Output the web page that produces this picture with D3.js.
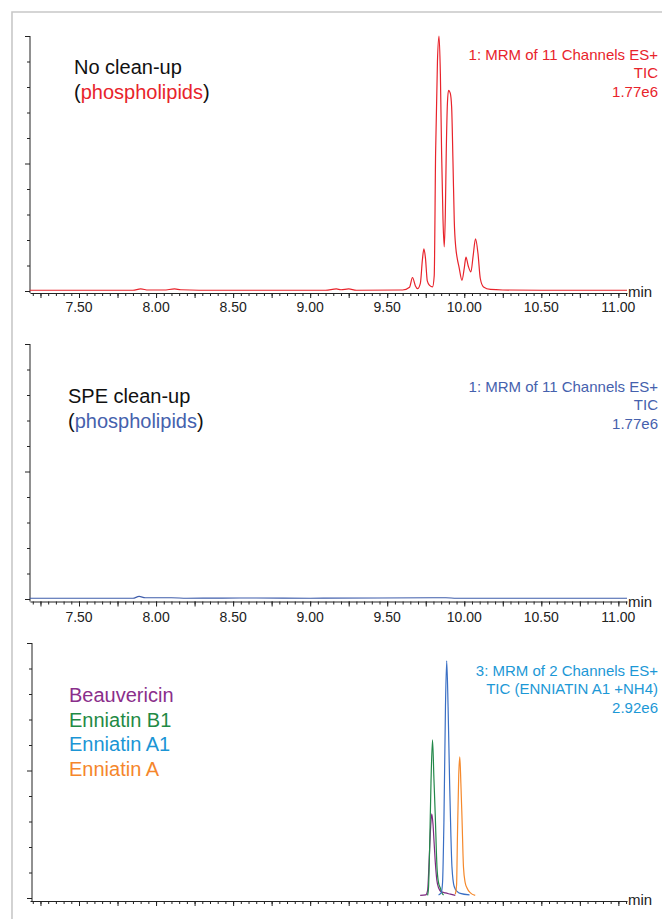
<!DOCTYPE html>
<html>
<head>
<meta charset="utf-8">
<script src="https://cdn.jsdelivr.net/npm/d3@7"></script>
<style>
  html, body { margin: 0; padding: 0; background: #fff; }
  svg { display: block; font-family: "Liberation Sans", Arial, Helvetica, sans-serif; }
</style>
</head>
<body>
<svg id="chart" width="662" height="919"></svg>
<script>
// Retention time range (min) and tick labels
var timeDomain = [7.182, 11.056];
var timeLabels = [7.50, 8.00, 8.50, 9.00, 9.50, 10.00, 10.50, 11.00];

// Panel 1: no clean-up, phospholipid TIC (% of 1.77e6)
var noCleanupTime = [7.18, 7.60, 7.85, 7.90, 7.95, 8.05, 8.12, 8.16, 8.40, 8.80, 9.10, 9.17, 9.20, 9.25, 9.30, 9.60,
  9.645, 9.664, 9.683, 9.697, 9.715, 9.728, 9.738, 9.748, 9.760, 9.775, 9.794, 9.805, 9.814, 9.826, 9.836, 9.845,
  9.853, 9.862, 9.870, 9.877, 9.883, 9.891, 9.898, 9.909, 9.918, 9.927, 9.935, 9.945, 9.953, 9.966, 9.985, 10.000,
  10.011, 10.025, 10.043, 10.058, 10.073, 10.089, 10.104, 10.125, 10.17, 10.25, 10.50, 11.056];
var noCleanupSignal = [0.3, 0.3, 0.3, 0.8, 0.4, 0.4, 0.8, 0.5, 0.3, 0.3, 0.3, 0.8, 0.5, 0.8, 0.3, 0.4,
  1.5, 5.3, 2.0, 0.9, 3, 12, 16.5, 13, 4, 2.2, 1.6, 6, 54, 90, 100, 85,
  54, 28, 17.3, 30, 54, 74, 78.7, 77.6, 72.2, 50, 27.7, 17, 13.3, 9.4, 4.2, 9,
  13.3, 10, 7.5, 14, 20.5, 14.7, 4.9, 1.6, 0.6, 0.4, 0.3, 0.3];

// Panel 2: SPE clean-up, phospholipid TIC (% of 1.77e6)
var speTime = [7.18, 7.85, 7.89, 7.93, 8.10, 8.20, 8.65, 9.00, 9.88, 9.95, 11.056];
var speSignal = [0.3, 0.3, 1.0, 0.5, 0.5, 0.3, 0.4, 0.3, 0.5, 0.3, 0.3];

// Panel 3: mycotoxins (% of 2.92e6)
var beauvericinTime = [9.714, 9.750, 9.762, 9.773, 9.782, 9.789, 9.797, 9.804, 9.812, 9.822, 9.833, 9.850, 9.877, 9.910, 9.942];
var beauvericinSignal = [1, 1.2, 3, 16, 28, 33, 29, 22, 14, 7, 4, 2.5, 2, 1.5, 1];
var enniatinB1Time = [9.762, 9.768, 9.775, 9.784, 9.794, 9.803, 9.812, 9.823, 9.833, 9.844, 9.855, 9.866];
var enniatinB1Signal = [1, 4, 19, 45, 62, 47, 32, 12, 6, 4, 2, 1.2];
var enniatinA1Time = [9.833, 9.850, 9.859, 9.868, 9.878, 9.886, 9.895, 9.905, 9.913, 9.920, 9.935, 9.955, 9.974, 10.034];
var enniatinA1Signal = [1.2, 2, 6, 30, 75, 93, 75, 45, 25, 12.3, 4.4, 2.5, 1.8, 1.2];
var enniatinATime = [9.942, 9.950, 9.956, 9.964, 9.971, 9.978, 9.985, 9.995, 10.006, 10.017, 10.04, 10.071];
var enniatinASignal = [1.5, 5, 25, 48, 55.4, 45, 32, 12, 6, 4, 2, 1];

var legendNames = ['Beauvericin', 'Enniatin B1', 'Enniatin A1', 'Enniatin A'];

function pairs(t, v) {
  return t.map(function(d, i) { return [d, v[i]]; });
}

var svg = d3.select('#chart');

// Grey frame
svg.append('path')
  .attr('d', 'M12,919 V12 H662')
  .attr('fill', 'none')
  .attr('stroke', '#c8c8c8')
  .attr('stroke-width', 1.6);

var panels = [
  {
    top: 36, zero: 291, axisY: 293, left: 30, labelDy: 19, minDy: 4, showLabels: true,
    series: [{ data: pairs(noCleanupTime, noCleanupSignal), color: '#e8232b' }],
    note: ['1: MRM of 11 Channels ES+', 'TIC', '1.77e6'], noteColor: '#e8232b', noteY: 60,
    title: { x: 74, y: 74, text: 'No clean-up', sub: 'phospholipids', color: '#e8232b' }
  },
  {
    top: 344, zero: 599, axisY: 601.5, left: 30, labelDy: 20, minDy: 5, showLabels: true,
    series: [{ data: pairs(speTime, speSignal), color: '#3f5dab' }],
    note: ['1: MRM of 11 Channels ES+', 'TIC', '1.77e6'], noteColor: '#4561ad', noteY: 392,
    title: { x: 68, y: 403, text: 'SPE clean-up', sub: 'phospholipids', color: '#4561ad' }
  },
  {
    top: 643, zero: 898, axisY: 901, left: 32, labelDy: 20, minDy: 4, showLabels: false,
    series: [
      { data: pairs(beauvericinTime, beauvericinSignal), color: '#7e2a80' },
      { data: pairs(enniatinB1Time, enniatinB1Signal), color: '#23884a' },
      { data: pairs(enniatinA1Time, enniatinA1Signal), color: '#3a6fc4' },
      { data: pairs(enniatinATime, enniatinASignal), color: '#f5892c' }
    ],
    note: ['3: MRM of 2 Channels ES+', 'TIC (ENNIATIN A1 +NH4)', '2.92e6'], noteColor: '#1c98d6', noteY: 676,
    legend: { x: 69, y: 702, colors: ['#8a2e8b', '#1f8a45', '#1b95d5', '#f5862b'] }
  }
];

panels.forEach(function(p) {
  var g = svg.append('g');

  var x = d3.scaleLinear().domain(timeDomain).range([30, 627]);
  var y = d3.scaleLinear().domain([0, 100]).range([p.zero, p.top]);

  // Y axis
  var yAxis = g.append('g')
    .attr('transform', 'translate(' + p.left + ',0)')
    .call(d3.axisLeft(y).tickValues(d3.range(0, 101, 10)).tickSize(3).tickFormat(''));
  yAxis.select('.domain').remove();
  yAxis.selectAll('.tick line')
    .attr('x2', function(d) { return d % 50 === 0 ? -5 : -3; })
    .attr('stroke', '#222');
  g.append('line')
    .attr('x1', p.left).attr('x2', p.left)
    .attr('y1', p.top).attr('y2', p.axisY)
    .attr('stroke', '#222');

  // X axis: minor ticks every 0.05 min
  var minor = g.append('g')
    .attr('transform', 'translate(0,' + p.axisY + ')')
    .call(d3.axisBottom(x)
      .tickValues(d3.range(144, 222).map(function(i) { return i * 0.05; }))
      .tickSize(3).tickSizeOuter(0).tickFormat(''));
  minor.selectAll('line, path').attr('stroke', '#222');

  // X axis: major ticks every 0.25 min
  var major = g.append('g')
    .attr('transform', 'translate(0,' + p.axisY + ')')
    .call(d3.axisBottom(x)
      .tickValues(d3.range(29, 45).map(function(i) { return i * 0.25; }))
      .tickSize(5).tickFormat(''));
  major.select('.domain').remove();
  major.selectAll('line').attr('stroke', '#222');

  // Labels every 0.5 min (the bottom panel's fall below the picture)
  if (p.showLabels) {
    g.selectAll('text.xlabel')
      .data(timeLabels)
      .enter().append('text')
      .attr('class', 'xlabel')
      .attr('x', function(d) { return x(d); })
      .attr('y', p.axisY + p.labelDy)
      .attr('text-anchor', 'middle')
      .attr('font-size', 14)
      .attr('fill', '#222')
      .text(function(d) { return d.toFixed(2); });
  }

  g.append('text')
    .attr('x', 628)
    .attr('y', p.axisY + p.minDy)
    .attr('font-size', 15)
    .attr('fill', '#222')
    .text('min');

  // Traces
  var line = d3.line()
    .x(function(d) { return x(d[0]); })
    .y(function(d) { return y(d[1]); })
    .curve(d3.curveMonotoneX);

  p.series.forEach(function(s) {
    g.append('path')
      .datum(s.data)
      .attr('fill', 'none')
      .attr('stroke', s.color)
      .attr('stroke-width', 1.2)
      .attr('d', line);
  });

  // Channel note (top right)
  g.selectAll('text.note')
    .data(p.note)
    .enter().append('text')
    .attr('class', 'note')
    .attr('x', 658)
    .attr('y', function(d, i) { return p.noteY + i * 18.3; })
    .attr('text-anchor', 'end')
    .attr('font-size', 15)
    .attr('fill', p.noteColor)
    .text(function(d) { return d; });

  // Title
  if (p.title) {
    g.append('text')
      .attr('x', p.title.x).attr('y', p.title.y)
      .attr('font-size', 20).attr('fill', '#111')
      .text(p.title.text);
    var t2 = g.append('text')
      .attr('x', p.title.x).attr('y', p.title.y + 25)
      .attr('font-size', 20).attr('fill', '#111');
    t2.append('tspan').text('(');
    t2.append('tspan').attr('fill', p.title.color).text(p.title.sub);
    t2.append('tspan').text(')');
  }

  // Legend
  if (p.legend) {
    g.selectAll('text.legend')
      .data(legendNames)
      .enter().append('text')
      .attr('class', 'legend')
      .attr('x', p.legend.x)
      .attr('y', function(d, i) { return p.legend.y + i * 24.7; })
      .attr('font-size', 20)
      .attr('fill', function(d, i) { return p.legend.colors[i]; })
      .text(function(d) { return d; });
  }
});
</script>
</body>
</html>
